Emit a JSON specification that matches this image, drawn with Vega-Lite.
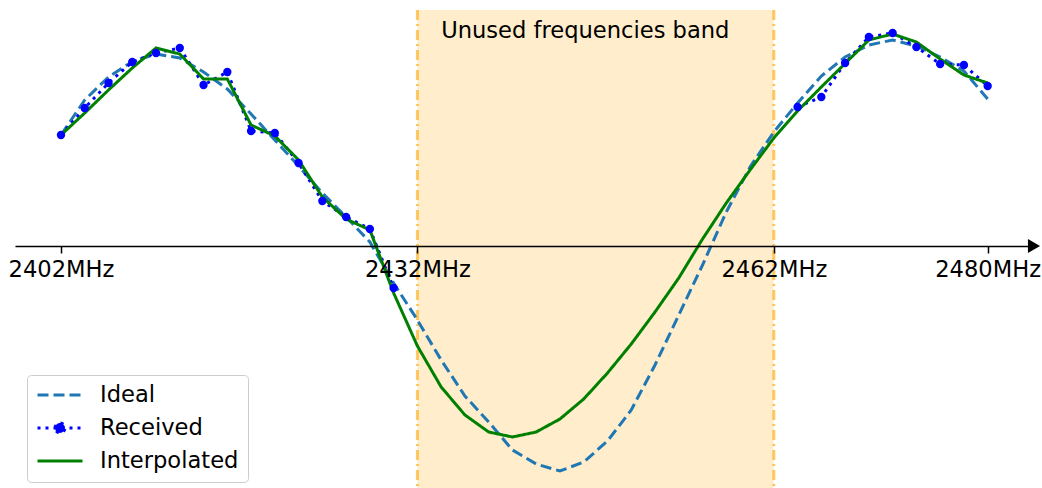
{
  "$schema": "https://vega.github.io/schema/vega-lite/v6.json",
  "width": 1019,
  "height": 478,
  "autosize": {"type": "none"},
  "padding": {"left": 15, "top": 10, "right": 8, "bottom": 0},
  "config": {"view": {"stroke": null}, "font": "DejaVu Sans"},
  "datasets": {
    "lines": [
      {"f": 2402, "v": 1.11, "s": "Ideal", "seg": "a"},
      {"f": 2404, "v": 1.46, "s": "Ideal", "seg": "a"},
      {"f": 2406, "v": 1.69, "s": "Ideal", "seg": "a"},
      {"f": 2408, "v": 1.845, "s": "Ideal", "seg": "a"},
      {"f": 2410, "v": 1.92, "s": "Ideal", "seg": "a"},
      {"f": 2412, "v": 1.88, "s": "Ideal", "seg": "a"},
      {"f": 2414, "v": 1.74, "s": "Ideal", "seg": "a"},
      {"f": 2416, "v": 1.57, "s": "Ideal", "seg": "a"},
      {"f": 2418, "v": 1.32, "s": "Ideal", "seg": "a"},
      {"f": 2420, "v": 1.06, "s": "Ideal", "seg": "a"},
      {"f": 2422, "v": 0.80, "s": "Ideal", "seg": "a"},
      {"f": 2424, "v": 0.53, "s": "Ideal", "seg": "a"},
      {"f": 2426, "v": 0.29, "s": "Ideal", "seg": "a"},
      {"f": 2428, "v": 0.04, "s": "Ideal", "seg": "a"},
      {"f": 2430, "v": -0.37, "s": "Ideal", "seg": "a"},
      {"f": 2432, "v": -0.74, "s": "Ideal", "seg": "a"},
      {"f": 2434, "v": -1.14, "s": "Ideal", "seg": "a"},
      {"f": 2436, "v": -1.50, "s": "Ideal", "seg": "a"},
      {"f": 2438, "v": -1.76, "s": "Ideal", "seg": "a"},
      {"f": 2440, "v": -2.04, "s": "Ideal", "seg": "a"},
      {"f": 2442, "v": -2.18, "s": "Ideal", "seg": "a"},
      {"f": 2444, "v": -2.25, "s": "Ideal", "seg": "a"},
      {"f": 2446, "v": -2.16, "s": "Ideal", "seg": "a"},
      {"f": 2448, "v": -1.95, "s": "Ideal", "seg": "a"},
      {"f": 2450, "v": -1.64, "s": "Ideal", "seg": "a"},
      {"f": 2452, "v": -1.19, "s": "Ideal", "seg": "a"},
      {"f": 2454, "v": -0.69, "s": "Ideal", "seg": "a"},
      {"f": 2456, "v": -0.19, "s": "Ideal", "seg": "a"},
      {"f": 2458, "v": 0.34, "s": "Ideal", "seg": "a"},
      {"f": 2460, "v": 0.79, "s": "Ideal", "seg": "a"},
      {"f": 2462, "v": 1.14, "s": "Ideal", "seg": "a"},
      {"f": 2464, "v": 1.43, "s": "Ideal", "seg": "a"},
      {"f": 2466, "v": 1.70, "s": "Ideal", "seg": "a"},
      {"f": 2468, "v": 1.89, "s": "Ideal", "seg": "a"},
      {"f": 2470, "v": 2.01, "s": "Ideal", "seg": "a"},
      {"f": 2472, "v": 2.06, "s": "Ideal", "seg": "a"},
      {"f": 2474, "v": 2.00, "s": "Ideal", "seg": "a"},
      {"f": 2476, "v": 1.89, "s": "Ideal", "seg": "a"},
      {"f": 2478, "v": 1.75, "s": "Ideal", "seg": "a"},
      {"f": 2480, "v": 1.47, "s": "Ideal", "seg": "a"},

      {"f": 2402, "v": 1.11, "s": "Received", "seg": "L"},
      {"f": 2404, "v": 1.38, "s": "Received", "seg": "L"},
      {"f": 2406, "v": 1.63, "s": "Received", "seg": "L"},
      {"f": 2408, "v": 1.84, "s": "Received", "seg": "L"},
      {"f": 2410, "v": 1.93, "s": "Received", "seg": "L"},
      {"f": 2412, "v": 1.98, "s": "Received", "seg": "L"},
      {"f": 2414, "v": 1.61, "s": "Received", "seg": "L"},
      {"f": 2416, "v": 1.74, "s": "Received", "seg": "L"},
      {"f": 2418, "v": 1.15, "s": "Received", "seg": "L"},
      {"f": 2420, "v": 1.13, "s": "Received", "seg": "L"},
      {"f": 2422, "v": 0.83, "s": "Received", "seg": "L"},
      {"f": 2424, "v": 0.45, "s": "Received", "seg": "L"},
      {"f": 2426, "v": 0.29, "s": "Received", "seg": "L"},
      {"f": 2428, "v": 0.17, "s": "Received", "seg": "L"},
      {"f": 2430, "v": -0.42, "s": "Received", "seg": "L"},
      {"f": 2464, "v": 1.39, "s": "Received", "seg": "R"},
      {"f": 2466, "v": 1.49, "s": "Received", "seg": "R"},
      {"f": 2468, "v": 1.83, "s": "Received", "seg": "R"},
      {"f": 2470, "v": 2.09, "s": "Received", "seg": "R"},
      {"f": 2472, "v": 2.13, "s": "Received", "seg": "R"},
      {"f": 2474, "v": 1.99, "s": "Received", "seg": "R"},
      {"f": 2476, "v": 1.82, "s": "Received", "seg": "R"},
      {"f": 2478, "v": 1.81, "s": "Received", "seg": "R"},
      {"f": 2480, "v": 1.60, "s": "Received", "seg": "R"},

      {"f": 2402, "v": 1.11, "s": "Interpolated", "seg": "a"},
      {"f": 2404, "v": 1.33, "s": "Interpolated", "seg": "a"},
      {"f": 2406, "v": 1.56, "s": "Interpolated", "seg": "a"},
      {"f": 2408, "v": 1.78, "s": "Interpolated", "seg": "a"},
      {"f": 2410, "v": 1.98, "s": "Interpolated", "seg": "a"},
      {"f": 2412, "v": 1.92, "s": "Interpolated", "seg": "a"},
      {"f": 2414, "v": 1.67, "s": "Interpolated", "seg": "a"},
      {"f": 2416, "v": 1.67, "s": "Interpolated", "seg": "a"},
      {"f": 2418, "v": 1.21, "s": "Interpolated", "seg": "a"},
      {"f": 2420, "v": 1.10, "s": "Interpolated", "seg": "a"},
      {"f": 2422, "v": 0.86, "s": "Interpolated", "seg": "a"},
      {"f": 2424, "v": 0.49, "s": "Interpolated", "seg": "a"},
      {"f": 2426, "v": 0.27, "s": "Interpolated", "seg": "a"},
      {"f": 2428, "v": 0.16, "s": "Interpolated", "seg": "a"},
      {"f": 2430, "v": -0.47, "s": "Interpolated", "seg": "a"},
      {"f": 2432, "v": -1.00, "s": "Interpolated", "seg": "a"},
      {"f": 2434, "v": -1.41, "s": "Interpolated", "seg": "a"},
      {"f": 2436, "v": -1.69, "s": "Interpolated", "seg": "a"},
      {"f": 2438, "v": -1.86, "s": "Interpolated", "seg": "a"},
      {"f": 2440, "v": -1.91, "s": "Interpolated", "seg": "a"},
      {"f": 2442, "v": -1.86, "s": "Interpolated", "seg": "a"},
      {"f": 2444, "v": -1.73, "s": "Interpolated", "seg": "a"},
      {"f": 2446, "v": -1.53, "s": "Interpolated", "seg": "a"},
      {"f": 2448, "v": -1.27, "s": "Interpolated", "seg": "a"},
      {"f": 2450, "v": -0.98, "s": "Interpolated", "seg": "a"},
      {"f": 2452, "v": -0.66, "s": "Interpolated", "seg": "a"},
      {"f": 2454, "v": -0.32, "s": "Interpolated", "seg": "a"},
      {"f": 2456, "v": 0.07, "s": "Interpolated", "seg": "a"},
      {"f": 2458, "v": 0.43, "s": "Interpolated", "seg": "a"},
      {"f": 2460, "v": 0.76, "s": "Interpolated", "seg": "a"},
      {"f": 2462, "v": 1.08, "s": "Interpolated", "seg": "a"},
      {"f": 2464, "v": 1.35, "s": "Interpolated", "seg": "a"},
      {"f": 2466, "v": 1.59, "s": "Interpolated", "seg": "a"},
      {"f": 2468, "v": 1.825, "s": "Interpolated", "seg": "a"},
      {"f": 2470, "v": 2.06, "s": "Interpolated", "seg": "a"},
      {"f": 2472, "v": 2.12, "s": "Interpolated", "seg": "a"},
      {"f": 2474, "v": 2.04, "s": "Interpolated", "seg": "a"},
      {"f": 2476, "v": 1.87, "s": "Interpolated", "seg": "a"},
      {"f": 2478, "v": 1.71, "s": "Interpolated", "seg": "a"},
      {"f": 2480, "v": 1.63, "s": "Interpolated", "seg": "a"}
    ],
    "band": [{"start": 2432, "end": 2462}],
    "edges": [{"f": 2432}, {"f": 2462}],
    "label": [{"f": 2434, "v": 2.08, "t": "Unused frequencies band"}],
    "arrow": [{"f": 2483.9, "v": 0}]
  },
  "layer": [
    {
      "data": {"name": "band"},
      "mark": {"type": "rect", "fill": "#ffa500", "opacity": 0.2},
      "encoding": {
        "x": {"field": "start", "type": "quantitative", "scale": {"domain": [2398.13, 2483.9], "nice": false, "zero": false}, "axis": {
          "orient": "bottom", "offset": -242, "values": [2402, 2432, 2462, 2480], "labelExpr": "datum.value + 'MHz'",
          "title": null, "grid": false, "domainColor": "black", "domainWidth": 1.5, "tickColor": "black", "tickWidth": 1.5, "tickSize": 7,
          "labelFontSize": 22.6, "labelFont": "DejaVu Sans", "labelColor": "black", "labelPadding": 5, "labelFlush": false, "labelOverlap": false, "labelBound": false, "zindex": 1
        }},
        "x2": {"field": "end"}
      }
    },
    {
      "data": {"name": "edges"},
      "mark": {"type": "rule", "stroke": "#ffa500", "opacity": 0.6, "strokeWidth": 3, "strokeDash": [10, 4, 2, 4]},
      "encoding": {"x": {"field": "f", "type": "quantitative"}}
    },
    {
      "data": {"name": "lines"},
      "mark": {"type": "line", "strokeWidth": 3},
      "encoding": {
        "x": {"field": "f", "type": "quantitative"},
        "y": {"field": "v", "type": "quantitative", "scale": {"domain": [-2.42, 2.36], "nice": false, "zero": false}, "axis": null},
        "detail": {"field": "seg"},
        "color": {"field": "s", "type": "nominal", "scale": {"domain": ["Ideal", "Received", "Interpolated"], "range": ["#1f77b4", "#0000ff", "#008000"]},
          "legend": {
            "title": null, "orient": "none", "legendX": 12, "legendY": 365,
            "symbolType": "stroke", "symbolSize": 2025, "symbolStrokeWidth": 3, "clipHeight": 22,
            "labelFontSize": 22.6, "labelFont": "DejaVu Sans", "labelColor": "black", "labelOffset": 16,
            "rowPadding": 10, "padding": 9, "strokeColor": "#cccccc", "fillColor": "rgba(255,255,255,0.8)", "cornerRadius": 4,
            "encode": {"symbols": {"update": {
              "shape": {"signal": "datum.value === 'Received' ? 'M-1,0H1M-0.22,0A0.22,0.22,0,1,1,0.22,0A0.22,0.22,0,1,1,-0.22,0' : 'stroke'"},
              "fill": {"signal": "datum.value === 'Received' ? '#0000ff' : 'transparent'"}
            }}}
          }},
        "strokeDash": {"field": "s", "type": "nominal", "scale": {"domain": ["Ideal", "Received", "Interpolated"], "range": [[11, 5], [3, 5], [1, 0]]}}
      }
    },
    {
      "data": {"name": "lines"},
      "transform": [{"filter": "datum.s === 'Received'"}],
      "mark": {"type": "point", "filled": true, "color": "#0000ff", "opacity": 1, "size": 70},
      "encoding": {
        "x": {"field": "f", "type": "quantitative"},
        "y": {"field": "v", "type": "quantitative"}
      }
    },
    {
      "data": {"name": "label"},
      "mark": {"type": "text", "align": "left", "baseline": "alphabetic", "fontSize": 22.6, "font": "DejaVu Sans", "color": "black"},
      "encoding": {
        "x": {"field": "f", "type": "quantitative"},
        "y": {"field": "v", "type": "quantitative"},
        "text": {"field": "t"}
      }
    },
    {
      "data": {"name": "arrow"},
      "mark": {"type": "point", "shape": "triangle-right", "filled": true, "color": "black", "opacity": 1, "size": 196, "clip": false},
      "encoding": {
        "x": {"field": "f", "type": "quantitative"},
        "y": {"field": "v", "type": "quantitative"}
      }
    }
  ]
}
